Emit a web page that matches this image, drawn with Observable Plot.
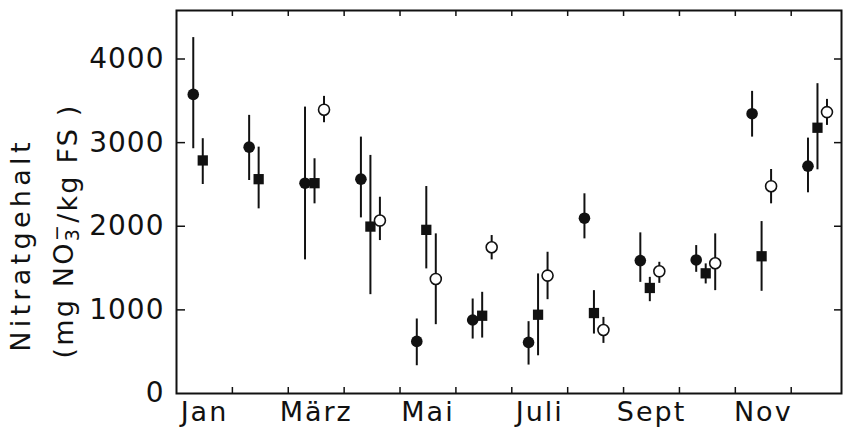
<!DOCTYPE html>
<html><head><meta charset="utf-8">
<script src="https://cdn.jsdelivr.net/npm/d3@7"></script>
<script src="https://cdn.jsdelivr.net/npm/@observablehq/plot@0.6"></script>
<style>body{margin:0;background:#fff}</style>
</head><body><div id="chart"></div>
<script>
const monthLabels = ["Jan", "März", "Mai", "Juli", "Sept", "Nov"];
const labelMonths = [0, 2, 4, 6, 8, 10];
const monthBoundaries = [1, 2, 3, 4, 5, 6, 7, 8, 9, 10, 11];
const yTicks = [0, 1000, 2000, 3000, 4000];
const yTitle = "Nitratgehalt";
const yUnitParts = ["(mg NO", "3", "−", "/kg FS )"];

const filledMonths = [0, 1, 2, 3, 4, 5, 6, 7, 8, 9, 10, 11];
const filledValue = [3577, 2946, 2515, 2563, 623, 879, 611, 2096, 1589, 1597, 3346, 2719];
const filledLow   = [2927, 2547, 1598, 2100, 332, 651, 340, 1849, 1329, 1449, 3066, 2400];
const filledHigh  = [4256, 3326, 3425, 3066, 891, 1130, 859, 2388, 1921, 1769, 3613, 3054];

const squareMonths = [0, 1, 2, 3, 4, 5, 6, 7, 8, 9, 10, 11];
const squareValue = [2787, 2563, 2515, 1996, 1957, 930, 942, 962, 1262, 1437, 1641, 3178];
const squareLow   = [2499, 2208, 2268, 1182, 1490, 663, 451, 711, 1098, 1310, 1222, 2675];
const squareHigh  = [3047, 2946, 2807, 2847, 2475, 1210, 1430, 1230, 1389, 1550, 2056, 3705];

const openMonths = [2, 3, 4, 5, 6, 7, 8, 9, 10, 11];
const openValue = [3394, 2068, 1370, 1749, 1410, 759, 1461, 1557, 2479, 3365];
const openLow   = [3238, 1829, 823, 1598, 1122, 599, 1317, 1230, 2268, 3206];
const openHigh  = [3553, 2347, 1909, 1889, 1689, 910, 1569, 1909, 2679, 3517];

// sampling offset within the month for each series
const offsets = {filled: 0.3, square: 0.47, open: 0.64};

function rows(series, months, v, lo, hi) {
  return months.map((m, i) => ({series, x: m + offsets[series], v: v[i], lo: lo[i], hi: hi[i]}));
}
const filled = rows("filled", filledMonths, filledValue, filledLow, filledHigh);
const square = rows("square", squareMonths, squareValue, squareLow, squareHigh);
const open = rows("open", openMonths, openValue, openLow, openHigh);
const all = [...filled, ...square, ...open];

const W = 843, H = 432, mL = 176, mR = 2, mT = 10, mB = 39;
const fw = W - mL - mR, fh = H - mT - mB;

const chart = Plot.plot({
  width: W, height: H,
  marginLeft: mL, marginRight: mR, marginTop: mT, marginBottom: mB,
  x: {domain: [0, 11.9], label: null},
  y: {domain: [0, 4580], label: null},
  style: {fontFamily: "DejaVu Sans", color: "#111", background: "#fff"},
  marks: [
    Plot.frame({stroke: "#111", strokeWidth: 2}),
    Plot.ruleY(yTicks.slice(1), {stroke: "#111", strokeWidth: 1.5, insetRight: fw - 9}),
    Plot.ruleY(yTicks.slice(1), {stroke: "#111", strokeWidth: 1.5, insetLeft: fw - 7}),
    Plot.ruleX(monthBoundaries, {stroke: "#111", strokeWidth: 1.5, insetTop: fh - 6}),
    Plot.ruleX(monthBoundaries, {stroke: "#111", strokeWidth: 1.5, insetBottom: fh - 6}),
    Plot.axisY(yTicks, {tickSize: 0, tickPadding: 12, fontSize: 28, tickFormat: d3.format("d"), label: null}),
    Plot.axisX(labelMonths.map(m => m + 0.5), {tickSize: 0, tickPadding: 8, fontSize: 27,
      tickFormat: d => monthLabels[labelMonths.indexOf(d - 0.5)], label: null}),
    Plot.text([yTitle], {text: d => d, frameAnchor: "left", textAnchor: "middle", rotate: -90, dx: -155, dy: 43, fontSize: 27, fill: "#111"}),
    Plot.text([yUnitParts.join("")], {text: d => d, frameAnchor: "left", textAnchor: "middle", rotate: -90, dx: -112, dy: 29, fontSize: 27, fill: "#111"}),
    Plot.ruleX(all, {x: "x", y1: "lo", y2: "hi", stroke: "#111", strokeWidth: 2}),
    Plot.dot(filled, {x: "x", y: "v", r: 5.8, symbol: "circle", fill: "#111"}),
    Plot.dot(square, {x: "x", y: "v", r: 5.8, symbol: "square", fill: "#111"}),
    Plot.dot(open, {x: "x", y: "v", r: 5.5, symbol: "circle", fill: "#fff", stroke: "#111", strokeWidth: 1.6})
  ]
});
document.getElementById("chart").appendChild(chart);

// typographic touches: letter spacing and stacked sub/superscript
const svg = d3.select(chart);
svg.selectAll('g[aria-label="y-axis tick label"] text').style("letter-spacing", "1px");
svg.selectAll('g[aria-label="x-axis tick label"] text').style("letter-spacing", "2px");
const titles = svg.selectAll('g[aria-label="text"] text');
titles.each(function() {
  const t = d3.select(this);
  if (t.text() === yTitle) {
    t.style("letter-spacing", "4.3px");
  } else {
    t.style("letter-spacing", "2.2px").text(null);
    t.append("tspan").text(yUnitParts[0]);
    t.append("tspan").attr("dy", "0.32em").attr("font-size", "19").style("letter-spacing", "0px").text(yUnitParts[1]);
    t.append("tspan").attr("dx", "-0.62em").attr("dy", "-0.85em").attr("font-size", "19").text(yUnitParts[2]);
    t.append("tspan").attr("dy", "0.53em").text(yUnitParts[3]);
  }
});
</script>
</body></html>
